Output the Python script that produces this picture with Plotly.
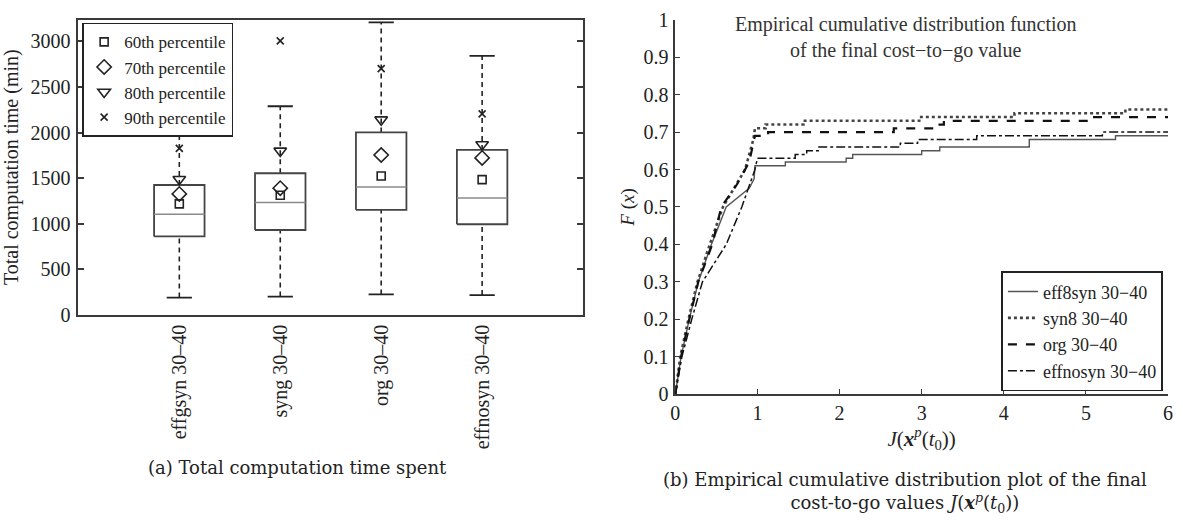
import plotly.graph_objects as go

# ---------------- Data: left panel (box plot of computation time) ----------------
groups = ["effgsyn 30\u201340", "syng 30\u201340", "org 30\u201340", "effnosyn 30\u201340"]
positions = [1, 2, 3, 4]
q1 = [861, 931, 1152, 994]
median = [1103, 1232, 1404, 1281]
q3 = [1425, 1554, 2002, 1810]
lower_whisker = [189, 200, 224, 217]
upper_whisker = [2254, 2289, 3210, 2842]
p60 = [1218, 1313, 1523, 1484]
p70 = [1327, 1390, 1754, 1722]
p80 = [1488, 1799, 2142, 1869]
p90 = [1827, 3007, 2702, 2205]
y_ticks_left = [0, 500, 1000, 1500, 2000, 2500, 3000]

# ---------------- Data: right panel (empirical CDFs) ----------------
eff8syn_x = [0, 0.07, 0.17, 0.28, 0.44, 0.62, 0.90, 0.96, 0.97, 1.34, 1.34, 2.08, 2.08, 2.16, 2.16,
             3.00, 3.00, 3.22, 3.22, 4.31, 4.31, 5.36, 5.36, 6.0]
eff8syn_f = [0, 0.10, 0.20, 0.30, 0.40, 0.50, 0.55, 0.575, 0.61, 0.61, 0.62, 0.62, 0.63, 0.63, 0.64,
             0.64, 0.65, 0.65, 0.66, 0.66, 0.68, 0.68, 0.69, 0.69]
syn8_x = [0, 0.06, 0.16, 0.27, 0.42, 0.58, 0.85, 0.95, 0.97, 1.10, 1.10, 1.56, 1.56, 2.97, 2.97,
          4.13, 4.13, 5.48, 5.48, 6.0]
syn8_f = [0, 0.10, 0.20, 0.30, 0.40, 0.50, 0.60, 0.68, 0.71, 0.71, 0.72, 0.72, 0.73, 0.73, 0.74,
          0.74, 0.75, 0.75, 0.76, 0.76]
org_x = [0, 0.07, 0.17, 0.28, 0.45, 0.56, 0.75, 0.90, 0.97, 1.13, 1.13, 2.66, 2.66, 3.19, 3.19,
         3.27, 3.27, 5.06, 5.06, 6.0]
org_f = [0, 0.10, 0.20, 0.30, 0.40, 0.50, 0.56, 0.62, 0.69, 0.69, 0.70, 0.70, 0.71, 0.71, 0.72,
         0.72, 0.73, 0.73, 0.74, 0.74]
effnosyn_x = [0, 0.08, 0.20, 0.33, 0.62, 0.81, 0.97, 1.00, 1.46, 1.46, 1.60, 1.60, 1.74, 1.74,
              2.74, 2.74, 2.95, 2.95, 3.67, 3.67, 5.20, 5.20, 6.0]
effnosyn_f = [0, 0.10, 0.20, 0.30, 0.40, 0.50, 0.60, 0.63, 0.63, 0.64, 0.64, 0.65, 0.65, 0.66,
              0.66, 0.67, 0.67, 0.68, 0.68, 0.69, 0.69, 0.70, 0.70]
y_ticks_right = [0, 0.1, 0.2, 0.3, 0.4, 0.5, 0.6, 0.7, 0.8, 0.9, 1.0]
y_tick_text_right = ["0", "0.1", "0.2", "0.3", "0.4", "0.5", "0.6", "0.7", "0.8", "0.9", "1"]
x_ticks_right = [0, 1, 2, 3, 4, 5, 6]

SERIF = "Liberation Serif, Times New Roman, serif"
CAPTION = "DejaVu Serif, serif"
INK = "#222222"
AX = "#3a3a3a"

fig = go.Figure()

# ---- box elements built from the arrays ----
BOX_HW = 0.25
CAP_HW = 0.125

bx, by = [], []
for p, a, b in zip(positions, q1, q3):
    bx += [p - BOX_HW, p + BOX_HW, p + BOX_HW, p - BOX_HW, p - BOX_HW, None]
    by += [a, a, b, b, a, None]
mx, my = [], []
for p, m in zip(positions, median):
    mx += [p - BOX_HW, p + BOX_HW, None]
    my += [m, m, None]
wx, wy = [], []
for p, lo, a, b, hi in zip(positions, lower_whisker, q1, q3, upper_whisker):
    wx += [p, p, None, p, p, None]
    wy += [lo, a, None, b, hi, None]
cx, cy = [], []
for p, lo, hi in zip(positions, lower_whisker, upper_whisker):
    cx += [p - CAP_HW, p + CAP_HW, None, p - CAP_HW, p + CAP_HW, None]
    cy += [lo, lo, None, hi, hi, None]

fig.add_trace(go.Scatter(x=wx, y=wy, mode="lines", line=dict(color=INK, width=1.6, dash="5px,4px"),
                         showlegend=False, hoverinfo="skip", xaxis="x", yaxis="y"))
fig.add_trace(go.Scatter(x=cx, y=cy, mode="lines", line=dict(color=INK, width=1.8),
                         showlegend=False, hoverinfo="skip", xaxis="x", yaxis="y"))
fig.add_trace(go.Scatter(x=bx, y=by, mode="lines", line=dict(color="#444444", width=1.8),
                         showlegend=False, hoverinfo="skip", xaxis="x", yaxis="y"))
fig.add_trace(go.Scatter(x=mx, y=my, mode="lines", line=dict(color="#8a8a8a", width=1.5),
                         showlegend=False, hoverinfo="skip", xaxis="x", yaxis="y"))

pct_specs = [
    ("60th percentile", p60, "square-open", 8),
    ("70th percentile", p70, "diamond-open", 11),
    ("80th percentile", p80, "triangle-down-open", 11),
    ("90th percentile", p90, "x-thin-open", 7),
]
for name, vals, sym, size in pct_specs:
    fig.add_trace(go.Scatter(x=positions, y=vals, mode="markers", name=name,
                             marker=dict(symbol=sym, size=size, color=INK,
                                         line=dict(color=INK, width=1.6)),
                             legend="legend", xaxis="x", yaxis="y"))

# ---- ECDF curves ----
cdf_specs = [
    ("eff8syn 30\u221240", eff8syn_x, eff8syn_f, dict(color="#555555", width=1.4, dash="solid")),
    ("syn8 30\u221240", syn8_x, syn8_f, dict(color="#444444", width=2.6, dash="dot")),
    ("org 30\u221240", org_x, org_f, dict(color="#111111", width=2.2, dash="dash")),
    ("effnosyn 30\u221240", effnosyn_x, effnosyn_f, dict(color="#111111", width=1.5, dash="dashdot")),
]
for name, xs, fs, ln in cdf_specs:
    fig.add_trace(go.Scatter(x=xs, y=fs, mode="lines", name=name, line=ln,
                             legend="legend2", xaxis="x2", yaxis="y2"))

W, H = 1183, 529


def px_x(v):
    return v / W


def px_y(v):
    return (H - v) / H


tick_font = dict(family=SERIF, size=20, color=INK)

fig.update_layout(
    width=W, height=H,
    margin=dict(l=0, r=0, t=0, b=0),
    paper_bgcolor="white", plot_bgcolor="white",
    font=dict(family=SERIF, size=18, color=INK),
    showlegend=True,
    xaxis=dict(domain=[px_x(74), px_x(583)], range=[0, 5], tickvals=positions, ticktext=groups,
               tickangle=-90, tickfont=tick_font, ticks="", showline=True, mirror=True,
               linecolor=AX, linewidth=1.8, showgrid=False, zeroline=False, anchor="y",
               fixedrange=True),
    yaxis=dict(domain=[px_y(317), px_y(9)], range=[0, 3240], tickvals=y_ticks_left,
               tickfont=tick_font, ticks="inside", ticklen=6, tickcolor=AX, tickwidth=1.5,
               showline=True, mirror="allticks", linecolor=AX, linewidth=1.8, showgrid=False,
               zeroline=False, anchor="x", ticklabelstandoff=2, ticklabeloverflow="allow",
               title=dict(text="Total computation time (min)", font=dict(family=SERIF, size=20, color=INK),
                          standoff=6)),
    xaxis2=dict(domain=[px_x(676), px_x(1173)], range=[0, 6], tickvals=x_ticks_right,
                tickfont=tick_font, ticks="inside", ticklen=5, tickcolor=AX, tickwidth=1.3,
                showline=True, mirror=False, linecolor=AX, linewidth=1.8, showgrid=False,
                zeroline=False, anchor="y2", ticklabelstandoff=0, ticklabeloverflow="allow",
                title=dict(text="<i>J</i>(<b><i>x</i></b><sup><i>p</i></sup>(<i>t</i><sub>0</sub>))",
                           font=dict(family=SERIF, size=21, color=INK), standoff=2)),
    yaxis2=dict(domain=[px_y(400), px_y(9)], range=[0, 1], tickvals=y_ticks_right,
                ticktext=y_tick_text_right, tickfont=tick_font, ticks="inside", ticklen=5,
                tickcolor=AX, tickwidth=1.3, showline=True, mirror=False, linecolor=AX,
                linewidth=1.8, showgrid=False, zeroline=False, anchor="x2", ticklabelstandoff=1,
                ticklabeloverflow="allow",
                title=dict(text="<i>F</i> (<i>x</i>)", font=dict(family=SERIF, size=19, color=INK),
                           standoff=4)),
    legend=dict(x=px_x(78), y=px_y(12), xanchor="left", yanchor="top",
                bgcolor="white", bordercolor="#222222", borderwidth=1.8,
                font=dict(family=SERIF, size=17, color=INK), tracegroupgap=0,
                itemwidth=30),
    legend2=dict(x=px_x(1168), y=px_y(397), xanchor="right", yanchor="bottom",
                 bgcolor="white", bordercolor="#222222", borderwidth=1.8,
                 font=dict(family=SERIF, size=18, color=INK), tracegroupgap=0,
                 itemwidth=30),
    annotations=[
        dict(text="Empirical cumulative distribution function<br>of the final cost\u2212to\u2212go value",
             x=px_x(909), y=px_y(0), xref="paper", yref="paper", xanchor="center", yanchor="top",
             showarrow=False, font=dict(family=SERIF, size=20, color="#333333"), align="center"),
        dict(text="(a) Total computation time spent", x=px_x(295), y=px_y(476), xref="paper", yref="paper",
             xanchor="center", yanchor="middle", showarrow=False,
             font=dict(family=CAPTION, size=18, color=INK)),
        dict(text="(b) Empirical cumulative distribution plot of the final<br>"
                  "cost-to-go values <i>J</i>(<b><i>x</i></b><sup><i>p</i></sup>(<i>t</i><sub>0</sub>))",
             x=px_x(908), y=px_y(529), xref="paper", yref="paper", xanchor="center", yanchor="bottom",
             align="center", showarrow=False, font=dict(family=CAPTION, size=18, color=INK)),
    ],
)

fig.write_html(
    "out.html",
    config={"displayModeBar": False},
    post_script="document.body.style.margin='0';document.body.style.overflow='hidden';",
)
